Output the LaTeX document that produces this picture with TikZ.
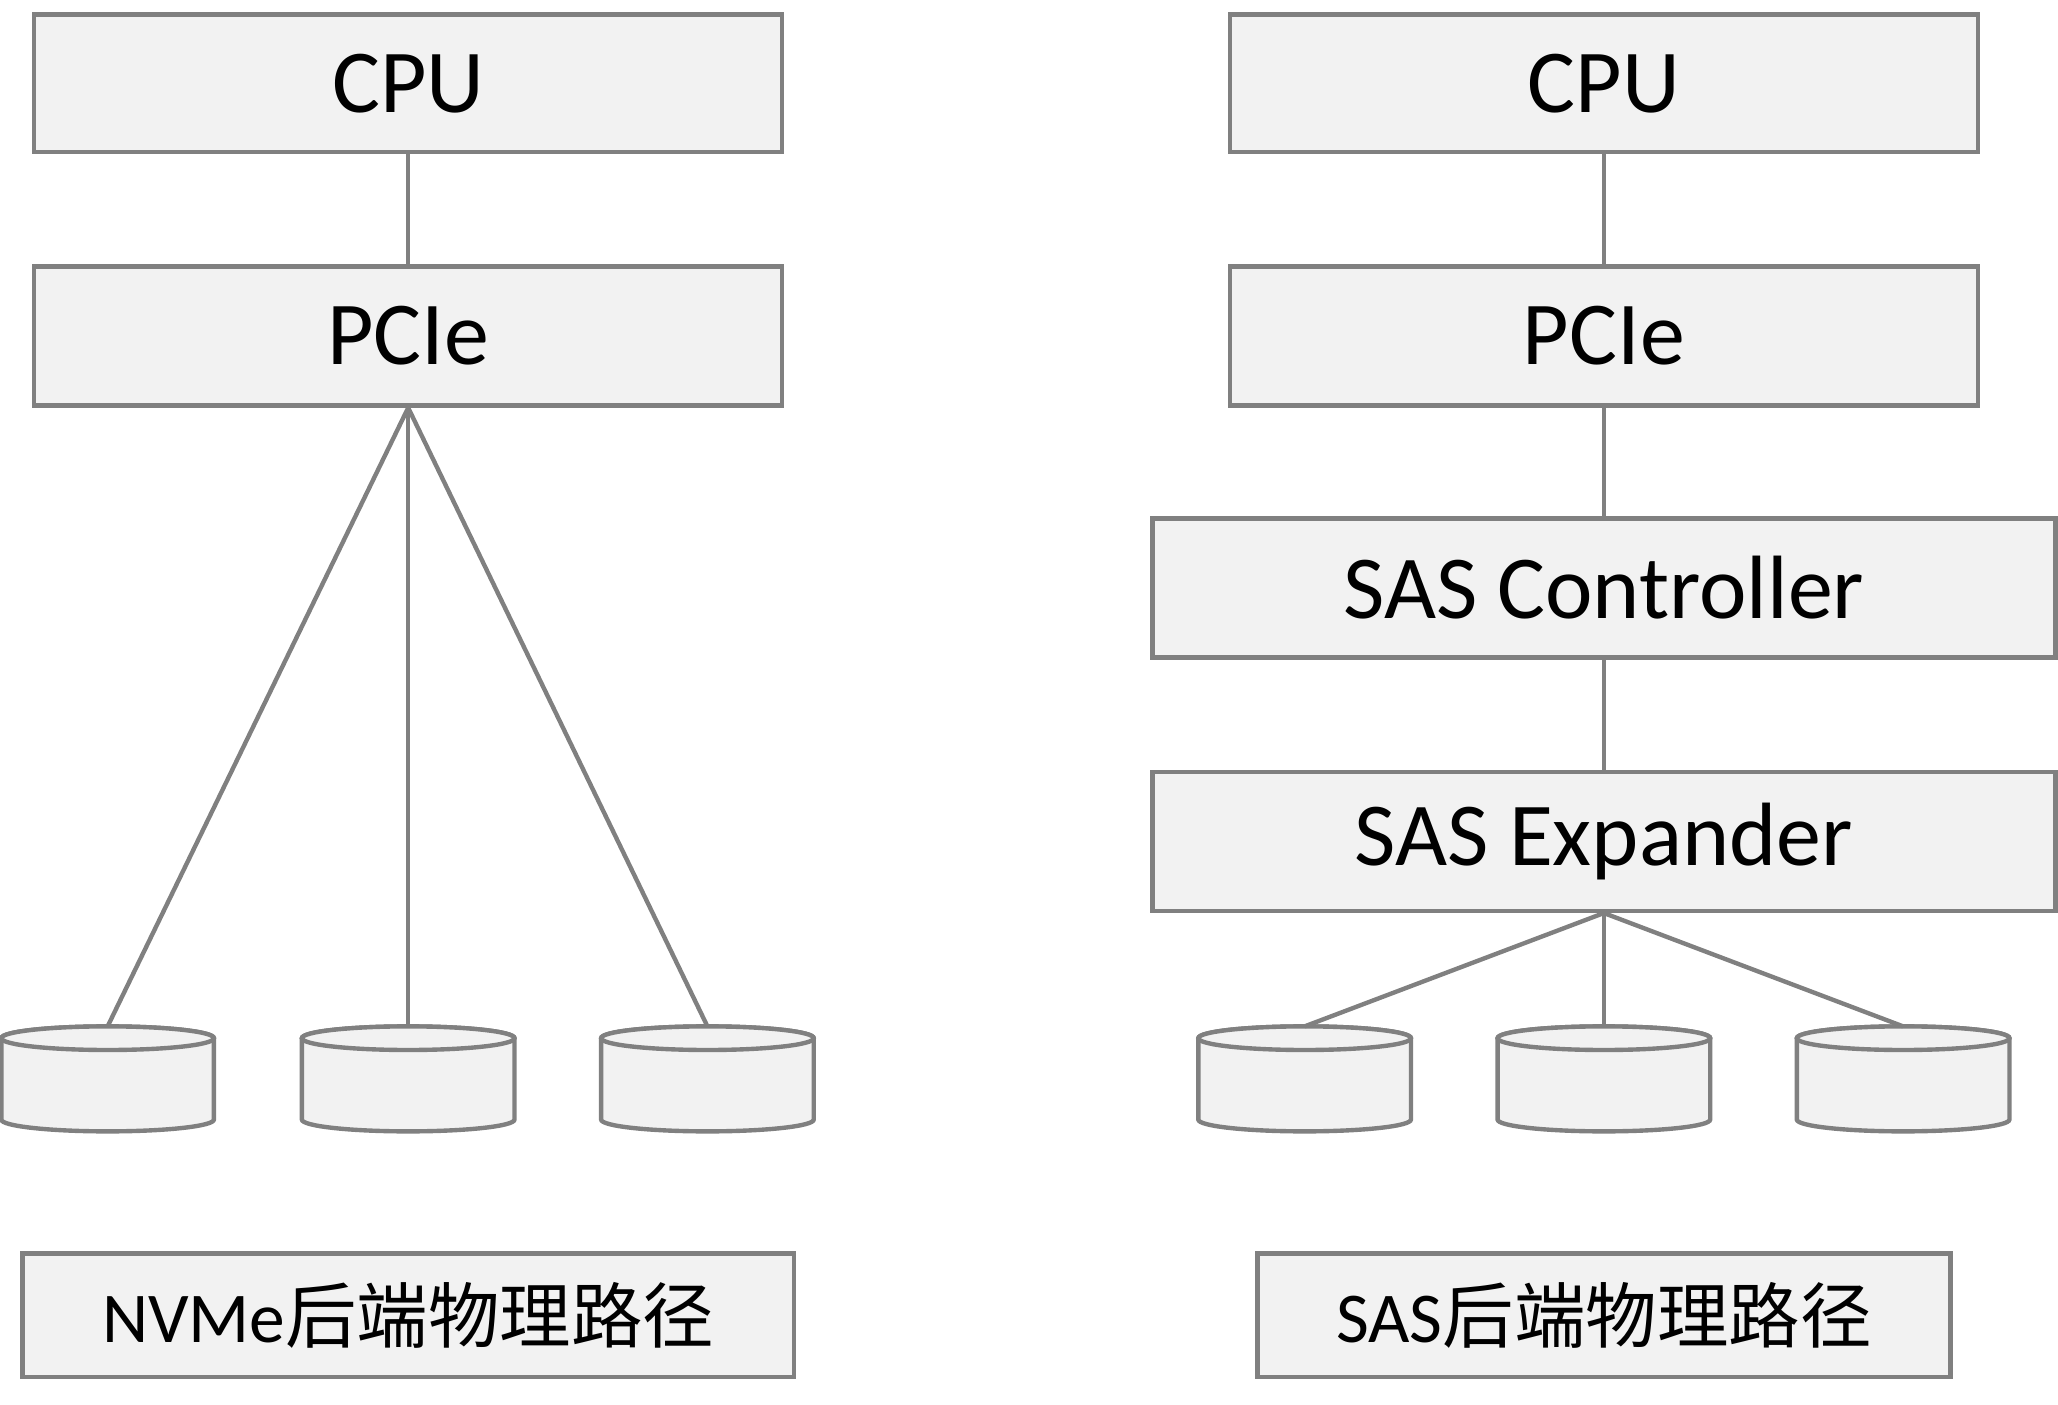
\documentclass[tikz,border=0pt]{standalone}
\usepackage{fontspec}
\setmainfont{Carlito}
\newfontfamily\cjk{Noto Sans CJK SC}
\usetikzlibrary{positioning}
\definecolor{BoxClr}{rgb}{0.949,0.949,0.949}
\definecolor{EdgeClr}{rgb}{0.5,0.5,0.5}

\tikzset{
  box/.style={draw=EdgeClr,fill=BoxClr,line width=1.9pt,inner sep=0pt,
    font=\fontsize{39}{44}\selectfont},
  tag/.style={draw=EdgeClr,fill=BoxClr,line width=1.9pt,inner sep=0pt,
    font=\fontsize{31}{36}\selectfont},
  link/.style={draw=EdgeClr,line width=1.9pt},
  disk/.style={draw=EdgeClr,fill=BoxClr,line width=1.9pt}
}

\begin{document}
\begin{tikzpicture}[x=0.02cm,y=-0.02cm]
\useasboundingbox (0,0) rectangle (1568,1070);

% NVMe side
\node[box,minimum width=11.4cm,minimum height=2.1cm] (cpuL) at (311,63.5) {CPU};
\node[box,minimum width=11.4cm,minimum height=2.12cm] (pcieL) at (311,256) {PCIe};
\node[tag,minimum width=11.76cm,minimum height=1.88cm] (tagL) at (311,1002) {NVMe{\cjk 后端物理路径}};

% SAS side
\node[box,minimum width=11.4cm,minimum height=2.1cm] (cpuR) at (1222,63.5) {CPU};
\node[box,minimum width=11.4cm,minimum height=2.12cm] (pcieR) at (1222,256) {PCIe};
\node[box,minimum width=13.76cm,minimum height=2.12cm] (ctrl) at (1222,448) {SAS Controller};
\node[box,minimum width=13.76cm,minimum height=2.12cm] (expd) at (1222,641) {SAS Expander};
\node[tag,minimum width=10.56cm,minimum height=1.88cm] (tagR) at (1222,1002) {SAS{\cjk 后端物理路径}};

% disks
\foreach \cx/\nm in {82/dL1,311/dL2,539/dL3,994/dR1,1222/dR2,1450/dR3}{
  \draw[disk] (\cx-81,791) -- (\cx-81,853) arc (180:0:81 and 9)
    -- (\cx+81,791) arc (0:-180:81 and 9) -- cycle;
  \draw[disk] (\cx,791) ellipse (81 and 9);
  \coordinate (\nm) at (\cx,782);
}

\draw[link] (cpuL) -- (pcieL);
\foreach \d in {dL1,dL2,dL3} \draw[link] (pcieL.south) -- (\d);

\draw[link] (cpuR) -- (pcieR);
\draw[link] (pcieR) -- (ctrl);
\draw[link] (ctrl) -- (expd);
\foreach \d in {dR1,dR2,dR3} \draw[link] (expd.south) -- (\d);
\end{tikzpicture}
\end{document}
